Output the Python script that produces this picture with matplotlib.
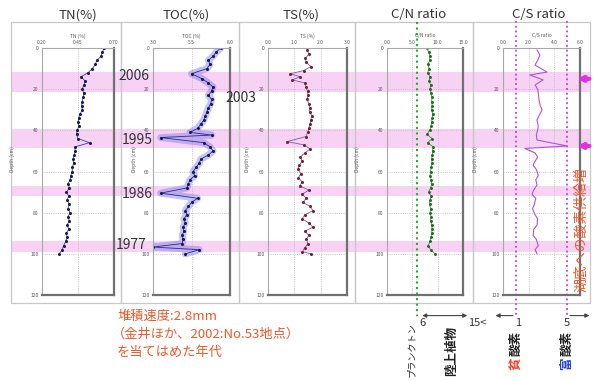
import matplotlib.pyplot as plt
from matplotlib.patches import Rectangle
from matplotlib import transforms

plt.rcParams['font.family'] = ['Noto Sans CJK JP', 'DejaVu Sans']

# ---------------- data (depth in cm) ----------------
depth_ticks = [0, 20, 40, 60, 80, 100, 120]

tn_depth = [0, 2, 4, 6, 8, 10, 12, 14, 16, 18,
            20, 22, 24, 26, 28, 30, 32, 34, 36, 38,
            40, 42, 44, 46, 48, 50, 52, 54, 56, 58,
            60, 62, 64, 66, 68, 70, 72, 74, 76, 78,
            80, 82, 84, 86, 88, 90, 92, 94, 96, 98, 100]
tn_val = [0.63, 0.62, 0.61, 0.58, 0.57, 0.55, 0.52, 0.47, 0.50, 0.49,
          0.48, 0.49, 0.485, 0.48, 0.475, 0.48, 0.465, 0.455, 0.45, 0.455,
          0.445, 0.44, 0.45, 0.53, 0.43, 0.43, 0.425, 0.415, 0.42, 0.41,
          0.41, 0.40, 0.395, 0.38, 0.39, 0.37, 0.385, 0.375, 0.39, 0.38,
          0.395, 0.38, 0.39, 0.375, 0.385, 0.37, 0.375, 0.365, 0.35, 0.34, 0.32]

toc_depth = [0, 2, 4, 6, 8, 10, 12.5, 15, 17, 19,
             21, 23, 25, 27, 29, 31, 33, 35, 37, 39,
             41, 42.3, 43.5, 46, 48, 50, 52, 54, 56, 58,
             60, 62, 64, 66, 68, 70.5, 73, 75, 77, 79,
             81, 83, 85, 87, 89, 91, 93, 95, 96.7, 98, 100]
toc_val = [7.4, 7.1, 6.9, 6.6, 6.7, 6.5, 5.5, 6.2, 6.6, 6.9,
           6.8, 6.6, 6.8, 6.75, 6.6, 6.5, 6.4, 6.3, 6.1, 5.9,
           5.4, 6.8, 3.5, 6.3, 6.7, 6.9, 6.6, 6.1, 6.0, 5.8,
           5.6, 5.7, 5.4, 5.3, 5.2, 3.5, 5.9, 5.5, 5.3, 5.1,
           5.2, 5.0, 5.1, 4.95, 5.0, 4.9, 4.95, 4.9, 3.0, 6.0, 5.1]

ts_depth = [1, 3, 5, 7, 9, 11, 12.5, 14, 15.5, 17,
            19, 21, 23, 25, 27, 29, 31, 33, 35, 37,
            39, 41, 43, 45.5, 47, 49, 51, 53, 55, 57,
            59, 61, 63, 65, 67, 69, 71, 73, 75, 77,
            79, 81, 83, 85, 87, 89, 91, 93, 95, 97,
            99, 100]
ts_val = [1.48, 1.55, 1.42, 1.45, 1.63, 1.35, 0.85, 1.22, 0.92, 1.40,
          1.45, 1.50, 1.52, 1.48, 1.55, 1.60, 1.58, 1.67, 1.62, 1.60,
          1.55, 1.50, 1.45, 0.72, 1.35, 1.60, 1.40, 1.22, 1.30, 1.18,
          1.14, 1.25, 1.15, 1.30, 1.20, 1.55, 1.30, 1.45, 1.33, 1.60,
          1.71, 1.40, 1.30, 1.55, 1.71, 1.40, 1.55, 1.45, 1.52, 1.40,
          1.30, 1.65]

cn_depth = tn_depth
cn_val = [7.9, 8.2, 8.5, 8.4, 8.1, 8.3, 8.0, 8.5, 8.3, 8.6,
          8.5, 8.7, 8.9, 8.8, 8.9, 8.8, 9.0, 8.9, 8.8, 8.7,
          8.4, 7.9, 8.9, 8.0, 9.1, 9.0, 8.9, 8.8, 8.9, 8.7,
          8.6, 8.5, 8.7, 8.8, 8.6, 8.2, 8.7, 8.5, 8.4, 8.6,
          8.5, 8.7, 8.6, 8.8, 8.9, 8.8, 8.7, 8.5, 8.1, 8.6, 9.5]

cs_depth = [1, 3.4, 6, 8.3, 11.7, 13.1, 15.5, 18, 20, 22,
            25, 28, 30, 33, 35, 38, 40, 42, 44.7, 47.6,
            48.8, 51, 53, 55, 57, 59, 62, 64, 66.5, 69,
            71, 73, 76, 78, 81, 83, 86, 88, 91, 93,
            96, 98, 100]
cs_val = [2.65, 2.88, 2.7, 2.5, 3.43, 2.1, 3.12, 2.5, 2.7, 2.75,
          2.8, 2.9, 3.05, 2.8, 2.65, 2.75, 2.7, 2.6, 2.65, 5.0,
          1.7, 2.5, 2.7, 2.5, 2.34, 2.6, 2.75, 2.55, 2.65, 2.4,
          2.26, 2.55, 2.45, 2.3, 2.5, 2.7, 2.65, 2.4, 2.35, 2.6,
          2.75, 2.5, 2.65]

# event layers (depth ranges) and their ages
bands = [(11.7, 21.5), (39.5, 48.7), (67, 72), (94, 99)]
years = ['2006', '2003', '1995', '1986', '1977']

cn_plankton = 6      # C/N boundary
cs_low, cs_high = 1, 5   # C/S boundaries
cs_arrow_depth = [15, 47.6]

# ---------------- layout helpers (pixels -> figure fraction) ----------------
W, H = 594, 381
def fx(x):
    return x / W
def fy(y):
    return 1 - y / H

RED = '#f0582a'
PINK = '#f8d2f4'

fig = plt.figure(figsize=(5.94, 3.81), dpi=100)


def make_panel(x0, x1, xlim, xticks, xticklabels, xlabel, title, title_x, lab_x):
    ax = fig.add_axes([fx(x0), fy(295), fx(x1) - fx(x0), (295 - 48) / H])
    ax.set_facecolor('none')
    ax.set_xlim(xlim)
    ax.set_ylim(120, 0)
    ax.xaxis.tick_top()
    ax.xaxis.set_label_position('top')
    ax.set_xticks(xticks)
    ax.set_xticklabels(xticklabels, fontsize=3.5, color='#555555')
    ax.set_yticks(depth_ticks)
    ax.set_yticklabels([str(d) for d in depth_ticks], fontsize=3.5, color='#555555')
    ax.tick_params(length=0, pad=2.5)
    ax.set_xlabel(xlabel, fontsize=3.5, color='#555555', labelpad=1.5)
    ax.set_ylabel('Depth (cm)', fontsize=3.5, color='#555555')
    ax.yaxis.set_label_coords((lab_x - x0) / (x1 - x0), 0.55)
    ax.grid(True, ls=':', lw=0.6, color='#b5b5b5')
    for s in ['left', 'top']:
        ax.spines[s].set_color('#a8a8a8')
        ax.spines[s].set_linewidth(0.8)
    for s in ['right', 'bottom']:
        ax.spines[s].set_color('#707070')
        ax.spines[s].set_linewidth(1.6)
    fig.text(fx(title_x), fy(15), title, fontsize=9.5, color='#333333',
             ha='center', va='center')
    return ax


ax_tn = make_panel(42, 114, (0.20, 0.70), [0.20, 0.45, 0.70], ['0.20', '0.45', '0.70'],
                   'TN (%)', 'TN(%)', 78, 15)
ax_toc = make_panel(153, 230, (3.0, 8.0), [3.0, 5.5, 8.0], ['3.0', '5.5', '8.0'],
                    'TOC (%)', 'TOC(%)', 186, 137)
ax_ts = make_panel(268, 347, (0, 3.0), [0, 1, 2, 3], ['0.0', '1.0', '2.0', '3.0'],
                   'TS (%)', 'TS(%)', 301, 250)
ax_cn = make_panel(387, 463, (0, 15), [0, 5, 10, 15], ['0.0', '5.0', '10.0', '15.0'],
                   'C/N ratio', 'C/N ratio', 419, 360)
ax_cs = make_panel(503, 580, (0, 6), [0, 2, 4, 6], ['0.0', '2.0', '4.0', '6.0'],
                   'C/S ratio', 'C/S ratio', 539, 478)

# outer panel frames
for x0, x1 in [(11, 121), (121, 239), (239, 355), (355, 473), (473, 590)]:
    fig.add_artist(Rectangle((fx(x0), fy(303)), fx(x1) - fx(x0), (303 - 22) / H,
                             transform=fig.transFigure, fill=False,
                             ec='#c8c8c8', lw=0.9, zorder=-0.5))

# pink event bands across all panels
band_tr = transforms.blended_transform_factory(fig.transFigure, ax_tn.transData)
for d0, d1 in bands:
    fig.add_artist(Rectangle((fx(11), d0), fx(590) - fx(11), d1 - d0,
                             transform=band_tr, color=PINK, lw=0, zorder=-1))

# profiles
ax_tn.plot(tn_val, tn_depth, color='#3a45a0', lw=0.6, marker='o', ms=1.2,
           mfc='#1a1a50', mec='#1a1a50')
ax_toc.plot(toc_val, toc_depth, color='#7a7ae8', lw=5, alpha=0.45,
            solid_capstyle='round')
ax_toc.plot(toc_val, toc_depth, color='#2a2a90', lw=0.6, marker='o', ms=1.2,
            mfc='#1a1a50', mec='#1a1a50')
ax_ts.plot(ts_val, ts_depth, color='#7a5aaa', lw=0.6, marker='o', ms=1.2,
           mfc='#7a2030', mec='#7a2030')
ax_cn.plot(cn_val, cn_depth, color='#2f9a2f', lw=0.6, marker='o', ms=1.1,
           mfc='#1f6a1f', mec='#1f6a1f')
ax_cs.plot(cs_val, cs_depth, color='#a855e0', lw=0.8)

# threshold lines
ax_cn.plot([cn_plankton, cn_plankton], [-12.5, 130], ls=':', color='#22b022',
           lw=1.5, clip_on=False)
for v in [cs_low, cs_high]:
    ax_cs.plot([v, v], [-13, 130], ls=':', color='#c040e0', lw=1.3, clip_on=False)

arrow_kw = dict(color='#444444', lw=0.8, mutation_scale=6)
ax_cn.annotate('', xy=(6.4, 130), xytext=(16.4, 130), annotation_clip=False,
               arrowprops=dict(arrowstyle='<|-|>', **arrow_kw))
ax_cs.annotate('', xy=(-0.8, 130), xytext=(cs_low, 130), annotation_clip=False,
               arrowprops=dict(arrowstyle='-|>', **arrow_kw))
ax_cs.annotate('', xy=(6.95, 130), xytext=(cs_high, 130), annotation_clip=False,
               arrowprops=dict(arrowstyle='-|>', **arrow_kw))

# magenta markers on the right
for d in cs_arrow_depth:
    ax_cs.annotate('', xy=(5.55, d), xytext=(6.95, d), annotation_clip=False,
                   arrowprops=dict(arrowstyle='-|>', color='#e030e0', lw=3,
                                   mutation_scale=7))

# year labels
for txt, (x, y) in zip(years, [(118, 76), (225, 98), (122, 140), (122, 194), (116, 245)]):
    fig.text(fx(x), fy(y), txt, fontsize=10, color='#333333', va='center')

# right-side note
fig.text(fx(581), fy(230), '湖底への酸素供給増', rotation=90, fontsize=10,
         color=RED, ha='center', va='center')

# sedimentation note
fig.text(fx(117), fy(316), '堆積速度:2.8mm', fontsize=9.5, color=RED, va='center')
fig.text(fx(112), fy(334), '（金井ほか、2002:No.53地点）', fontsize=9.5, color=RED, va='center')
fig.text(fx(117), fy(352), 'を当てはめた年代', fontsize=9.5, color=RED, va='center')

# labels under the ratio panels
fig.text(fx(423), fy(323), '6', fontsize=8, color='#333333', ha='center', va='center')
fig.text(fx(477), fy(323), '15<', fontsize=8, color='#333333', ha='center', va='center')
fig.text(fx(518), fy(323), '1', fontsize=8, color='#333333', ha='center', va='center')
fig.text(fx(567), fy(323), '5', fontsize=8, color='#333333', ha='center', va='center')
fig.text(fx(412), fy(322), 'プランクトン', rotation=90, fontsize=6.6,
         color='#222222', ha='center', va='top')
fig.text(fx(452), fy(326), '陸上植物', rotation=90, fontsize=9,
         color='#222222', ha='center', va='top', weight='bold')
fig.text(fx(516), fy(331), '酸素', rotation=90, fontsize=9,
         color='#222222', ha='center', va='top', weight='bold')
fig.text(fx(516), fy(357), '貧', rotation=90, fontsize=9,
         color='#f04020', ha='center', va='top', weight='bold')
fig.text(fx(567), fy(331), '酸素', rotation=90, fontsize=9,
         color='#222222', ha='center', va='top', weight='bold')
fig.text(fx(567), fy(357), '富', rotation=90, fontsize=9,
         color='#2040e0', ha='center', va='top', weight='bold')

plt.savefig('out.png', dpi=100)
